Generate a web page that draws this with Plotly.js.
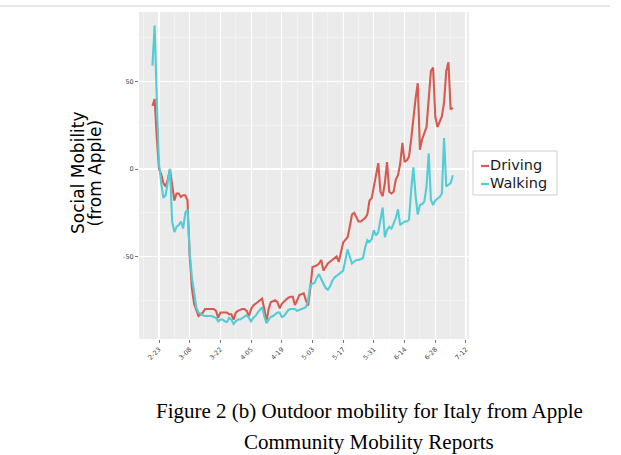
<!DOCTYPE html>
<html>
<head>
<meta charset="utf-8">
<script src="https://cdn.plot.ly/plotly-3.0.1.min.js"></script>
<style>html,body{margin:0;padding:0;background:#fff;}#chart{width:621px;height:455px;}</style>
</head>
<body>
<div id="chart"></div>
<script>
// ---- data ----
const startDate = [2020, 1, 20]; // 20 Feb 2020, daily values follow
const seriesNames = ['Driving', 'Walking'];
const seriesColors = ['#D65A4F', '#52CDD6'];

const driving = [
  36, 40, 18, 0, -3, -8, -10, -6, 0, -10,
  -18, -14, -14, -16, -15, -15, -18, -50, -68, -77,
  -81, -84, -83, -82, -80, -80, -80, -80, -80, -81,
  -85, -82, -82, -82, -82, -83, -83, -86, -82, -81,
  -80.5, -80, -80, -81, -84, -80, -78, -77, -76, -75,
  -74, -80, -87, -80, -76, -75.5, -75, -76, -79.5, -77,
  -75.5, -74.5, -73.5, -73, -73, -77.7, -75, -72, -71.5, -71,
  -75, -78, -68, -56, -55.5, -55, -54, -52, -58, -56,
  -54, -53, -52, -51, -50, -53, -47, -42, -40.5, -39,
  -33, -26, -25, -27.5, -30, -30, -29, -28, -26, -18,
  -16.6, -10, -3, 3.4, -13, -15.5, -8, 4, -13, -14,
  -13, -6, -3.5, 3, 15, 4, 5, 7, 17, 30,
  40, 49, 11, 17, 21, 24, 40, 56, 58, 30,
  24, 27, 30, 38, 56, 61, 34, 35
];

const walking = [
  59, 82, 40, 3, -8, -16.5, -15, -6, 0, -30,
  -36, -33, -32, -30, -34, -25, -23, -48, -62, -70,
  -79, -82, -83, -83.5, -84, -84, -84, -84, -84.5, -85,
  -87, -86, -86, -87, -87.4, -85, -86, -88.6, -87, -86,
  -86, -85, -84.5, -83.5, -85, -87, -85, -84, -82, -80.5,
  -79, -84, -88, -86, -84.5, -84, -83, -82, -82, -84.5,
  -84, -82, -80.5, -80, -80, -80, -81, -80.6, -80, -79.5,
  -79, -75, -66, -65.5, -65, -62, -60, -63, -66, -68,
  -69, -67, -64, -62, -61, -60, -59, -58, -52, -46,
  -50, -54, -53, -52, -52, -51.5, -51, -45, -40.6, -41.7,
  -40, -35, -38, -36, -30, -22, -39, -35, -33, -34,
  -31, -28, -23, -32, -31, -30, -30, -29, -12, 1,
  -15, -26, -20.6, -20, -18.6, -10, 9, -17.7, -20.6, -18,
  -17, -16, -14, 17.7, -10, -9, -8, -3.6
];

const tickDates = ['2020-02-23','2020-03-08','2020-03-22','2020-04-05','2020-04-19','2020-05-03',
                   '2020-05-17','2020-05-31','2020-06-14','2020-06-28','2020-07-12'];
const tickLabels = ['2-23','3-08','3-22','4-05','4-19','5-03','5-17','5-31','6-14','6-28','7-12'];
const minorDates = ['2020-02-16','2020-03-01','2020-03-15','2020-03-29','2020-04-12','2020-04-26',
                    '2020-05-10','2020-05-24','2020-06-07','2020-06-21','2020-07-05'];
const yTickVals = [-50, 0, 50];
const yTickText = ['-50', '0', '50'];
const yMinorVals = [-75, -25, 25, 75];
const yTitleLines = ['Social Mobility', '(from Apple)'];
const captionLines = ['Figure 2 (b) Outdoor mobility for Italy from Apple', 'Community Mobility Reports'];

// ---- build dates ----
const dates = driving.map((_, i) => {
  const d = new Date(Date.UTC(startDate[0], startDate[1], startDate[2] + i));
  return d.toISOString().slice(0, 10);
});

const traces = [driving, walking].map((vals, k) => ({
  type: 'scatter', mode: 'lines', x: dates, y: vals, name: seriesNames[k],
  line: {color: seriesColors[k], width: 2.1}, hoverinfo: 'skip'
}));

// pixel -> paper helpers (plot area x 139..469, y 12..339)
const L = 139, R = 469, T = 12, B = 339;
const px = v => (v - L) / (R - L);
const py = v => (B - v) / (B - T);

const tickFont = {family: 'DejaVu Sans', size: 6.5, color: '#444444'};

const shapes = [
  {type: 'line', xref: 'paper', yref: 'paper', x0: px(0), x1: px(610), y0: py(6), y1: py(6),
   line: {color: '#E6E6E6', width: 2}},
  {type: 'rect', xref: 'paper', yref: 'paper', x0: px(473), x1: px(557), y0: py(195), y1: py(151),
   line: {color: '#CFCFCF', width: 1}, fillcolor: '#FFFFFF'},
];
const annotations = [];
seriesNames.forEach((name, k) => {
  const yy = 166 + k * 18;
  shapes.push({type: 'line', xref: 'paper', yref: 'paper', x0: px(481), x1: px(489),
               y0: py(yy), y1: py(yy), line: {color: seriesColors[k], width: 2.2}});
  annotations.push({xref: 'paper', yref: 'paper', x: px(488), y: py(yy - 1.5), xanchor: 'left',
                    yanchor: 'middle', showarrow: false, text: name,
                    font: {family: 'DejaVu Sans', size: 14.5, color: '#1A1A1A'}});
});
yTitleLines.forEach((t, k) => {
  annotations.push({xref: 'paper', yref: 'paper', x: px(78 + k * 16.5), y: py(173), xanchor: 'center',
                    yanchor: 'middle', showarrow: false, text: t, textangle: -90,
                    font: {family: 'DejaVu Sans', size: 17, color: '#000000'}});
});
captionLines.forEach((t, k) => {
  annotations.push({xref: 'paper', yref: 'paper', x: px(369), y: py(411 + k * 31), xanchor: 'center',
                    yanchor: 'middle', showarrow: false, text: t,
                    font: {family: 'Liberation Serif', size: 21, color: '#000000'}});
});

const layout = {
  width: 621, height: 455,
  margin: {l: L, r: 621 - R, t: T, b: 455 - B, pad: 0},
  paper_bgcolor: '#FFFFFF', plot_bgcolor: '#EBEBEB',
  showlegend: false,
  xaxis: {
    type: 'date', range: ['2020-02-13 21:00', '2020-07-13 09:00'],
    tickmode: 'array', tickvals: tickDates, ticktext: tickLabels, tickangle: -45,
    tickfont: tickFont, ticks: 'outside', ticklen: 3, tickwidth: 0.8, tickcolor: '#555555',
    showgrid: true, gridcolor: '#FFFFFF', gridwidth: 1.1, zeroline: false, showline: false,
    minor: {tickmode: 'array', tickvals: minorDates, showgrid: true, gridcolor: '#F6F6F6', gridwidth: 0.6, ticks: ''}
  },
  yaxis: {
    range: [-97.1, 89.7], tickmode: 'array', tickvals: yTickVals, ticktext: yTickText,
    tickfont: tickFont, ticks: 'outside', ticklen: 3, tickwidth: 0.8, tickcolor: '#555555',
    showgrid: true, gridcolor: '#FFFFFF', gridwidth: 1.1, zeroline: false, showline: false,
    minor: {tickmode: 'array', tickvals: yMinorVals, showgrid: true, gridcolor: '#F6F6F6', gridwidth: 0.6, ticks: ''}
  },
  shapes: shapes,
  annotations: annotations
};

Plotly.newPlot('chart', traces, layout, {staticPlot: true, displayModeBar: false});
</script>
</body>
</html>
